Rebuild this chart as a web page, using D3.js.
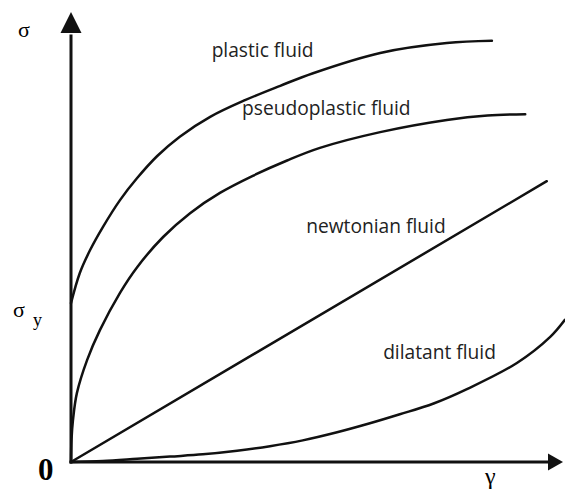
<!DOCTYPE html>
<html>
<head>
<meta charset="utf-8" />
<title>Flow curves</title>
<script src="https://d3js.org/d3.v7.min.js"></script>
<style>
  body { margin: 0; background: #fff; }
  svg { display: block; }
</style>
</head>
<body>
<svg width="565" height="492"></svg>
<script>
    // Data (shear rate gamma, shear stress sigma), 0..10 units
    var plastic = [
        [0.00, 3.53], [0.18, 4.20], [0.39, 4.71], [0.65, 5.22], [1.00, 5.82],
        [1.35, 6.31], [1.76, 6.80], [2.22, 7.23], [2.84, 7.67], [3.55, 8.04],
        [4.27, 8.36], [4.94, 8.64], [6.31, 9.09], [7.67, 9.31], [8.59, 9.36]
    ];
    var pseudoplastic = [
        [0.00, 0.00], [0.01, 0.49], [0.04, 0.93], [0.12, 1.53], [0.33, 2.27],
        [0.59, 2.93], [1.00, 3.76], [1.35, 4.33], [1.88, 5.00], [2.43, 5.53],
        [3.04, 5.98], [3.71, 6.36], [4.41, 6.70], [5.08, 6.98], [6.31, 7.33],
        [7.67, 7.60], [8.50, 7.70], [9.27, 7.73]
    ];
    var newtonian = [[0.00, 0.00], [9.71, 6.24]];
    var dilatant = [
        [0.00, 0.00], [0.65, 0.02], [1.35, 0.07], [2.02, 0.12], [2.69, 0.17],
        [3.39, 0.25], [4.06, 0.35], [4.73, 0.48], [5.43, 0.66], [6.10, 0.86],
        [6.71, 1.06], [7.40, 1.30], [8.08, 1.62], [9.10, 2.20], [9.78, 2.78],
        [10.08, 3.16]
    ];
    var curveNames = ["plastic fluid", "pseudoplastic fluid", "newtonian fluid", "dilatant fluid"];
    var axisLabels = ["σ", "σ", "y", "0", "γ"];

    var svg = d3.select("svg");

    var x = d3.scaleLinear().domain([0, 10]).range([71, 561]);
    var y = d3.scaleLinear().domain([0, 10]).range([462, 12]);

    var line = d3.line()
        .x(function (d) { return x(d[0]); })
        .y(function (d) { return y(d[1]); })
        .curve(d3.curveCatmullRom.alpha(0.5));

    // axes with arrow heads
    var ink = "#111";
    svg.append("line")
        .attr("x1", x(0)).attr("y1", y(0) + 1.5)
        .attr("x2", x(0)).attr("y2", y(9.5))
        .attr("stroke", ink).attr("stroke-width", 3);
    svg.append("path")
        .attr("d", "M" + x(0) + "," + y(10) + "L" + (x(0) - 10.5) + "," + (y(10) + 21) + "L" + (x(0) + 10.5) + "," + (y(10) + 21) + "Z")
        .attr("fill", ink);

    svg.append("line")
        .attr("x1", x(0) - 1.5).attr("y1", y(0))
        .attr("x2", x(9.8)).attr("y2", y(0))
        .attr("stroke", ink).attr("stroke-width", 3);
    svg.append("path")
        .attr("d", "M" + (x(10) + 2) + "," + y(0) + "L" + (x(10) - 13) + "," + (y(0) - 8.5) + "L" + (x(10) - 13) + "," + (y(0) + 8.5) + "Z")
        .attr("fill", ink);

    // curves
    [plastic, pseudoplastic, newtonian, dilatant].forEach(function (pts) {
        svg.append("path")
            .datum(pts)
            .attr("d", line)
            .attr("fill", "none")
            .attr("stroke", ink)
            .attr("stroke-width", 2.5)
            .attr("stroke-linecap", "round");
    });

    // curve labels
    var labelPos = [[2.87, 9.0], [3.49, 7.71], [4.8, 5.09], [6.37, 2.29]];
    svg.selectAll(".name")
        .data(curveNames)
        .enter()
        .append("text")
        .attr("class", "name")
        .attr("x", function (d, i) { return x(labelPos[i][0]); })
        .attr("y", function (d, i) { return y(labelPos[i][1]); })
        .text(function (d) { return d; })
        .style("font-family", "'Open Sans', sans-serif")
        .style("font-size", "19.2px")
        .attr("fill", "#222");

    // axis symbols
    var serif = "'Liberation Serif', 'DejaVu Serif', serif";
    svg.append("text").attr("x", 18).attr("y", 37).text(axisLabels[0])
        .style("font-family", serif).style("font-size", "22px");
    svg.append("text").attr("x", 13).attr("y", 317).text(axisLabels[1])
        .style("font-family", serif).style("font-size", "22px");
    svg.append("text").attr("x", 33).attr("y", 326).text(axisLabels[2])
        .style("font-family", serif).style("font-size", "18px");
    svg.append("text").attr("x", 38).attr("y", 480).text(axisLabels[3])
        .style("font-family", serif).style("font-size", "31px").style("font-weight", "bold");
    svg.append("text").attr("x", 485).attr("y", 484).text(axisLabels[4])
        .style("font-family", serif).style("font-size", "24px");
</script>
</body>
</html>
